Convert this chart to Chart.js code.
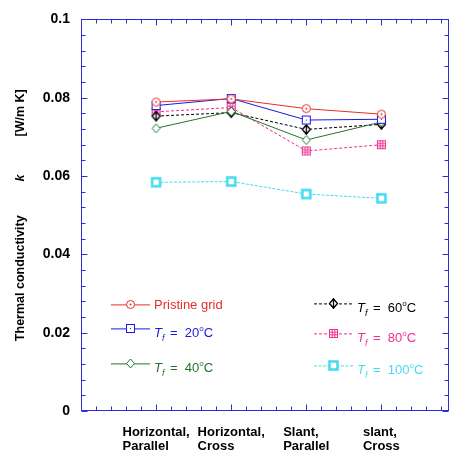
<!DOCTYPE html>
<html><head><meta charset="utf-8">
<script src="https://cdn.jsdelivr.net/npm/chart.js@4.4.1/dist/chart.umd.min.js"></script>
<style>html,body{margin:0;padding:0;background:#fff;}canvas{display:block;}</style>
</head><body>
<canvas id="c" width="455" height="452"></canvas>
<script>
// ---- data ----
const categories = [["Horizontal,","Parallel"],["Horizontal,","Cross"],["Slant,","Parallel"],["slant,","Cross"]];
const seriesNames = ["Pristine grid","20","40","60","80","100"];
const pristine = [0.0789,0.0797,0.0772,0.0758];
const tf20    = [0.0780,0.0798,0.0743,0.0745];
const tf40    = [0.0722,0.0765,0.0692,0.0738];
const tf60    = [0.0753,0.0762,0.0719,0.0732];
const tf80    = [0.0764,0.0775,0.0664,0.0680];
const tf100   = [0.0584,0.0586,0.0554,0.0543];
const yTickStep = 0.02;
const yMinorStep = 0.004;
const xMinorStep = 0.2;

// ---- styles ----
const FONT = "'Liberation Sans', Arial, sans-serif";
const AXIS = 'rgb(45,45,215)';
const RED = 'rgb(232,45,40)', BLUE = 'rgb(25,25,225)', GREEN = 'rgb(35,115,45)',
      BLACK = '#000', PINK = 'rgb(240,45,145)', CYAN = 'rgb(70,220,240)';

function marker(type, color){
  const s = 13, c = document.createElement('canvas'); c.width = s; c.height = s;
  const g = c.getContext('2d'); const m = s/2;
  g.strokeStyle = color; g.fillStyle = '#fff'; g.lineWidth = 1;
  if (type === 'circle'){
    g.beginPath(); g.arc(m, m, 4, 0, Math.PI*2); g.fill(); g.stroke();
    g.beginPath(); g.arc(m, m, 1, 0, Math.PI*2); g.fillStyle = color; g.fill();
  } else if (type === 'square'){
    g.fillRect(2.5,2.5,8,8); g.strokeRect(2.5,2.5,8,8);
    g.fillStyle = color; g.fillRect(6,6,1,1);
  } else if (type === 'diamond' || type === 'diamondbar'){
    g.beginPath(); g.moveTo(m,2); g.lineTo(s-2.5,m); g.lineTo(m,s-2); g.lineTo(2.5,m); g.closePath();
    g.fill(); g.stroke();
    if (type === 'diamondbar'){ g.beginPath(); g.moveTo(m,1); g.lineTo(m,s-1); g.lineWidth=1.3; g.stroke(); g.lineWidth=1.3; g.beginPath(); g.moveTo(m,2); g.lineTo(s-2.5,m); g.lineTo(m,s-2); g.lineTo(2.5,m); g.closePath(); g.stroke(); }
  } else if (type === 'grid'){
    g.fillRect(2.5,2.5,8,8); g.strokeRect(2.5,2.5,8,8);
    g.beginPath();
    [5.2,7.8].forEach(p=>{ g.moveTo(p,2.5); g.lineTo(p,10.5); g.moveTo(2.5,p); g.lineTo(10.5,p); });
    g.stroke();
  } else if (type === 'thick'){
    g.lineWidth = 2.6; g.fillRect(2.5,2.5,8,8); g.strokeRect(2.5,2.5,8,8);
  }
  return c;
}

const seriesValues = [pristine, tf20, tf40, tf60, tf80, tf100];
const seriesStyle = [
  {color: RED,   dash: [],     mk: 'circle'},
  {color: BLUE,  dash: [],     mk: 'square'},
  {color: GREEN, dash: [],     mk: 'diamond'},
  {color: BLACK, dash: [3,2],  mk: 'diamondbar'},
  {color: PINK,  dash: [3,2],  mk: 'grid'},
  {color: CYAN,  dash: [3,1.5],mk: 'thick'}
];

const datasets = seriesValues.map((vals, si) => {
  const st = seriesStyle[si];
  return {
    label: seriesNames[si],
    data: vals.map((v, i) => ({x: i + 1, y: v})),
    borderColor: st.color,
    backgroundColor: st.color,
    borderWidth: 1,
    borderDash: st.dash,
    pointStyle: marker(st.mk, st.color),
    pointRadius: 5,
    showLine: true,
    fill: false,
    tension: 0
  };
});

function drawRich(ctx, x, y, segs){
  let cx = x;
  segs.forEach(s => {
    ctx.font = s.font; ctx.fillText(s.t, cx, y + (s.dy||0)); cx += ctx.measureText(s.t).width + (s.gap||0);
  });
}

const legendLayout = [
  {dx: 30, dy: 285}, {dx: 30, dy: 309}, {dx: 30, dy: 344},
  {dx: 233, dy: 284}, {dx: 233, dy: 314}, {dx: 233, dy: 346}
];

const deco = {
  id: 'deco',
  afterDraw(chart){
    const ctx = chart.ctx, a = chart.chartArea, xs = chart.scales.x, ys = chart.scales.y;
    ctx.save();
    ctx.strokeStyle = AXIS; ctx.lineWidth = 1;
    const L = Math.round(a.left)+0.5, R = Math.round(a.right)-0.5, T = Math.round(a.top)+0.5, B = Math.round(a.bottom)-0.5;
    ctx.strokeRect(L, T, R-L, B-T);
    ctx.beginPath();
    const nY = Math.round((ys.max - ys.min)/yMinorStep);
    for (let k = 0; k <= nY; k++){
      const v = ys.min + k*yMinorStep;
      const y = Math.round(ys.getPixelForValue(v)) + 0.5;
      const len = (k % Math.round(yTickStep/yMinorStep) === 0) ? 6 : 4;
      ctx.moveTo(L, y); ctx.lineTo(L+len, y);
      ctx.moveTo(R, y); ctx.lineTo(R-len, y);
    }
    for (let k = 0; k*xMinorStep <= xs.max + 1e-9; k++){
      const v = k*xMinorStep;
      const x = Math.round(xs.getPixelForValue(v)) + 0.5;
      const len = (k % 5 === 0) ? 6 : 4;
      ctx.moveTo(x, B); ctx.lineTo(x, B-len);
      ctx.moveTo(x, T); ctx.lineTo(x, T+len);
    }
    ctx.stroke();

    // y axis title
    ctx.fillStyle = '#000';
    ctx.textBaseline = 'middle'; ctx.textAlign = 'left';
    const fB = 'bold 12.5px ' + FONT, fBI = 'italic bold 12.5px ' + FONT;
    const segs = [{t:'Thermal conductivity', font:fB, gap:34},{t:'k', font:fBI, gap:38},{t:'[W/m K]', font:fB}];
    let tw = 0; segs.forEach(s=>{ctx.font=s.font; tw += ctx.measureText(s.t).width + (s.gap||0);});
    ctx.save();
    ctx.translate(21, (a.top + a.bottom)/2 + 0);
    ctx.rotate(-Math.PI/2);
    drawRich(ctx, -tw/2, 0, segs);
    ctx.restore();

    // x category labels
    ctx.textBaseline = 'alphabetic'; ctx.textAlign = 'left';
    ctx.font = 'bold 13px ' + FONT;
    categories.forEach((lines, i) => {
      const x = xs.getPixelForValue(i + 1);
      const w = Math.max(...lines.map(l => ctx.measureText(l).width));
      lines.forEach((l, j) => ctx.fillText(l, x - w/2, a.bottom + 25 + j*14));
    });

    // legend
    datasets.forEach((ds, i) => {
      const lay = legendLayout[i];
      const x0 = a.left + lay.dx, y0 = a.top + lay.dy;
      ctx.save();
      ctx.strokeStyle = ds.borderColor; ctx.lineWidth = 1; ctx.setLineDash(ds.borderDash);
      ctx.beginPath(); ctx.moveTo(x0, y0 + 0.5); ctx.lineTo(x0 + 39, y0 + 0.5); ctx.stroke();
      ctx.restore();
      const img = ds.pointStyle;
      ctx.drawImage(img, Math.round(x0 + 19.5 - img.width/2), Math.round(y0 + 0.5 - img.height/2));
      ctx.fillStyle = ds.borderColor;
      const tx = x0 + 43;
      const fR = '13px ' + FONT, fI = 'italic 13px ' + FONT, fS = 'italic 9px ' + FONT, fSup = '8px ' + FONT;
      if (i === 0){
        ctx.font = fR; ctx.fillText(ds.label, tx, y0 + 5);
      } else {
        drawRich(ctx, tx, y0 + 9, [
          {t:'T', font:fI, gap:0},
          {t:'f', font:fS, dy:4, gap:2},
          {t:' =  ' + ds.label, font:fR},
          {t:'o', font:fSup, dy:-6},
          {t:'C', font:fR}
        ]);
      }
    });
    ctx.restore();
  }
};

new Chart(document.getElementById('c'), {
  type: 'line',
  data: { datasets },
  options: {
    responsive: false,
    devicePixelRatio: 1,
    animation: false,
    layout: { padding: { top: 19, right: 4, left: 0, bottom: 0 } },
    plugins: { legend: { display: false }, tooltip: { enabled: false } },
    scales: {
      x: {
        type: 'linear', min: 0, max: 4.9,
        grid: { display: false, drawTicks: false },
        border: { display: false },
        ticks: { display: false },
        afterFit(s){ s.height = 41; }
      },
      y: {
        type: 'linear', min: 0, max: 0.1,
        grid: { display: false, drawTicks: false },
        border: { display: false },
        ticks: {
          stepSize: yTickStep, padding: 11, color: '#000',
          font: { family: FONT, size: 14, weight: 'bold' },
          callback: v => String(+v.toFixed(3))
        },
        afterFit(s){ s.width = 81; }
      }
    }
  },
  plugins: [deco]
});
</script>
</body></html>
